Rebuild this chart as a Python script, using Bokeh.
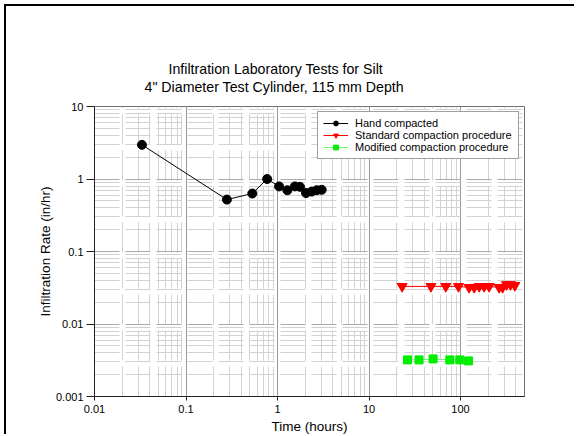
from bokeh.plotting import figure
from bokeh.models import (FixedTicker, CustomJSTickFormatter, Legend, LegendItem, Title)
from bokeh.embed import file_html
from bokeh.resources import INLINE

# Infiltration rate (in/hr) against elapsed time (hours)
hand_time = [0.033, 0.28, 0.53, 0.77, 1.04, 1.28, 1.55, 1.76, 2.05, 2.36, 2.68, 3.04]
hand_rate = [2.96, 0.52, 0.63, 1.0, 0.79, 0.70, 0.79, 0.78, 0.64, 0.67, 0.70, 0.71]

std_time = [23, 47.5, 69, 95, 124, 141, 160, 181, 205, 264, 288, 318, 351, 392]
std_rate = [0.033, 0.033, 0.033, 0.033, 0.032, 0.032, 0.033, 0.033, 0.033,
            0.032, 0.032, 0.035, 0.035, 0.034]

mod_time = [26.3, 35.2, 50.1, 76.4, 98.2, 122.5]
mod_rate = [0.0032, 0.0032, 0.0033, 0.0032, 0.0032, 0.0031]

x_major = [0.01, 0.1, 1, 10, 100]
y_major = [0.001, 0.01, 0.1, 1, 10]
title_lines = ["Infiltration Laboratory Tests for Silt",
               '4" Diameter Test Cylinder, 115 mm Depth']

FONT = "Liberation Sans"


def minor_between(majors, upper):
    out = []
    for d in majors:
        for m in range(2, 10):
            v = round(d * m, 6)
            if v < upper:
                out.append(v)
    return out


# the page rules on the left and top edges are CSS borders of the plot element
p = figure(width=570, height=430, x_axis_type="log", y_axis_type="log",
           x_range=(0.01, 500), y_range=(0.001, 10),
           output_backend="svg", toolbar_location=None,
           min_border_left=88, min_border_right=52,
           min_border_top=100, min_border_bottom=38,
           background_fill_color="white", border_fill_color="white")
p.styles = {"border-left": "2px solid black", "border-top": "2px solid black",
            "margin-left": "4px", "margin-top": "4px"}

p.outline_line_color = "#707070"
p.outline_line_width = 1

fmt = CustomJSTickFormatter(code="return tick.toString();")
p.xaxis.ticker = FixedTicker(ticks=x_major, minor_ticks=minor_between(x_major, 500))
p.yaxis.ticker = FixedTicker(ticks=y_major, minor_ticks=minor_between(y_major, 10))
p.xaxis.formatter = fmt
p.yaxis.formatter = fmt

for ax in (p.xaxis, p.yaxis):
    ax.axis_line_color = "#202020"
    ax.major_tick_line_color = "#202020"
    ax.minor_tick_line_color = None
    ax.major_tick_in = 0
    ax.major_label_text_font = FONT
    ax.major_label_text_font_size = "11px"
    ax.major_label_text_color = "black"
    ax.axis_label_text_font = FONT
    ax.axis_label_text_font_size = "13.5px"
    ax.axis_label_text_font_style = "normal"
    ax.axis_label_text_color = "black"

p.xaxis.major_tick_out = 4
p.xaxis.major_label_standoff = 4
p.xaxis.axis_label_standoff = 3
p.yaxis.major_tick_out = 8
p.yaxis.major_label_standoff = 3
p.yaxis.axis_label_standoff = 0
p.xaxis.axis_label = "Time (hours)"
p.yaxis.axis_label = "Infiltration Rate (in/hr)"

# vertical grid: solid decade lines, broken light minor lines
p.xgrid.grid_line_color = "#9a9a9a"
p.xgrid.grid_line_width = 1
p.xgrid.minor_grid_line_color = "#d2d2d2"
p.xgrid.minor_grid_line_dash = [30, 6]
# horizontal grid: broken lines throughout
p.ygrid.grid_line_color = "#ababab"
p.ygrid.grid_line_dash = [25, 6]
p.ygrid.minor_grid_line_color = "#d2d2d2"
p.ygrid.minor_grid_line_dash = [25, 6]

l1 = p.line(hand_time, hand_rate, line_color="black", line_width=1)
s1 = p.scatter(hand_time, hand_rate, marker="circle", size=9,
               fill_color="black", line_color="black")
l2 = p.line(std_time, std_rate, line_color="red", line_width=1)
s2 = p.scatter(std_time, std_rate, marker="inverted_triangle", size=10,
               fill_color="red", line_color="red")
l3 = p.line(mod_time, mod_rate, line_color="#6cf56c", line_width=1)
s3 = p.scatter(mod_time, mod_rate, marker="square", size=8,
               fill_color="#00ee00", line_color="#00ee00")

legend = Legend(items=[
    LegendItem(label="Hand compacted", renderers=[l1, s1]),
    LegendItem(label="Standard compaction procedure", renderers=[l2, s2]),
    LegendItem(label="Modified compaction procedure", renderers=[l3, s3]),
], location="top_right", margin=5, padding=5, spacing=0,
    glyph_width=25, glyph_height=12, label_height=12, label_width=158,
    label_standoff=7, label_text_font=FONT, label_text_font_size="11px",
    label_text_color="black", border_line_color="#404040", border_line_width=1,
    background_fill_color="white", background_fill_alpha=1.0)
p.add_layout(legend)

# blank band between the frame and the heading
p.add_layout(Title(text=" ", standoff=9, text_font_size="1px"), "above")
# two-line heading; titles stack outward from the frame
for txt, off in ((title_lines[1], 50), (title_lines[0], 74)):
    p.add_layout(Title(text=txt, align="left", offset=off, standoff=0,
                       text_font=FONT, text_font_size="14.2px",
                       text_font_style="normal", text_color="black"), "above")

open("out.html", "w").write(file_html(p, INLINE))
